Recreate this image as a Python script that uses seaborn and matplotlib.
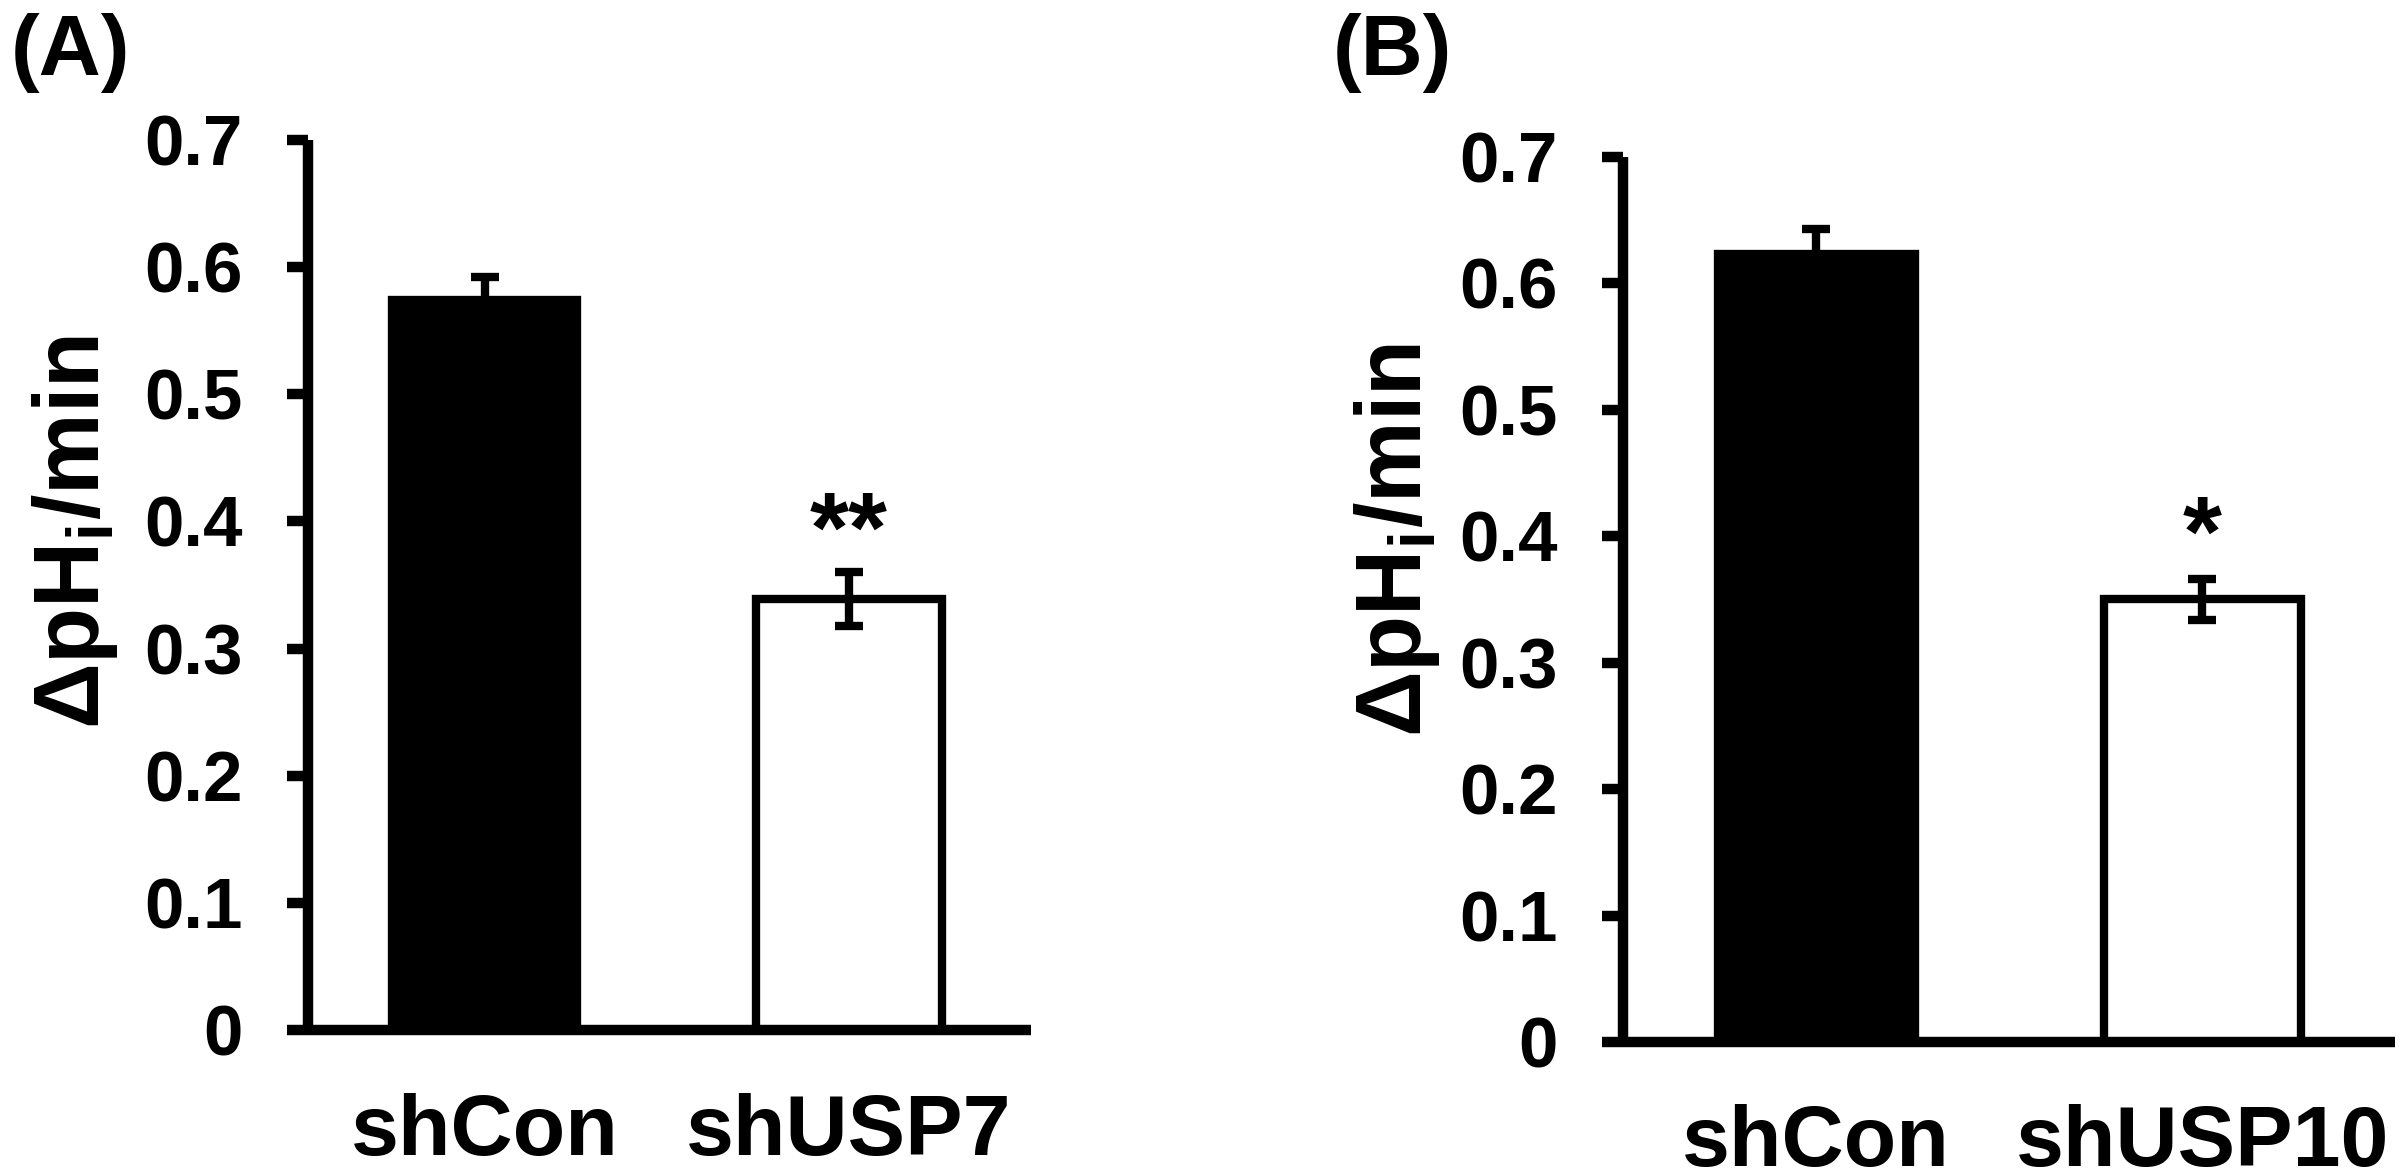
import numpy as np
import matplotlib.pyplot as plt
import seaborn as sns

# data
cats_a = ['shCon', 'shUSP7']
vals_a = [0.574, 0.339]
errs_a = [0.018, 0.021]
stars_a = ['', '**']

cats_b = ['shCon', 'shUSP10']
vals_b = [0.623, 0.350]
errs_b = [0.020, 0.016]
stars_b = ['', '*']

yticks = [0, 0.1, 0.2, 0.3, 0.4, 0.5, 0.6, 0.7]

sns.set_style('ticks')
plt.rcParams['font.family'] = ['Liberation Sans', 'DejaVu Sans']
plt.rcParams['font.weight'] = 'bold'
plt.rcParams['mathtext.fontset'] = 'custom'
plt.rcParams['mathtext.rm'] = 'Liberation Sans:bold'
plt.rcParams['mathtext.bf'] = 'Liberation Sans:bold'
plt.rcParams['mathtext.it'] = 'Liberation Sans:bold'
plt.rcParams['mathtext.default'] = 'bf'
plt.rcParams['text.color'] = 'black'
plt.rcParams['axes.labelcolor'] = 'black'
plt.rcParams['xtick.color'] = 'black'
plt.rcParams['ytick.color'] = 'black'
plt.rcParams['axes.edgecolor'] = 'black'

fig = plt.figure(figsize=(24, 11.71), dpi=100)
ax_a = fig.add_axes([0.1283, 0.1204, 0.3013, 0.7600])
ax_b = fig.add_axes([0.6763, 0.1102, 0.3217, 0.7558])


def draw_panel(ax, cats, vals, errs, stars, xlo, label_x, label_y, star_y):
    sns.barplot(x=cats, y=vals, hue=cats, palette=['black', 'white'], legend=False,
                edgecolor='black', linewidth=6, width=0.51, ax=ax)
    ax.errorbar(range(len(cats)), vals, yerr=errs, fmt='none', ecolor='black',
                elinewidth=6, capsize=10, capthick=6)
    for i, s in enumerate(stars):
        if s:
            ax.text(i, star_y, s, ha='center', va='center', fontsize=72, fontweight='bold')
    ax.set_xlim(xlo, 1.5)
    ax.set_ylim(0, 0.7)
    ax.set_yticks(yticks)
    ax.set_yticklabels(['0' if v == 0 else f'{v:.1f}' for v in yticks])
    sns.despine(ax=ax)
    for sp in ['left', 'bottom']:
        ax.spines[sp].set_linewidth(7.5)
        ax.spines[sp].set_capstyle('butt')
    ax.tick_params(axis='y', length=15, width=7.5, pad=32, labelsize=51)
    ax.tick_params(axis='x', length=0, pad=45, labelsize=62)
    for t in ax.get_xticklabels() + ax.get_yticklabels():
        t.set_fontweight('bold')
    ax.set_ylabel('ΔpH$_{i}$/min', fontsize=66, fontweight='bold')
    ax.yaxis.set_label_coords(label_x, label_y)
    ax.set_xlabel('')


draw_panel(ax_a, cats_a, vals_a, errs_a, stars_a, -0.485, -0.26, 0.56, 0.389)
draw_panel(ax_b, cats_b, vals_b, errs_b, stars_b, -0.5, -0.234, 0.567, 0.397)

fig.text(0.0046, 0.989, '(A)', va='top', ha='left', fontsize=62, fontweight='bold')
fig.text(0.5554, 0.989, '(B)', va='top', ha='left', fontsize=62, fontweight='bold')

fig.savefig('out.png', dpi=100)
